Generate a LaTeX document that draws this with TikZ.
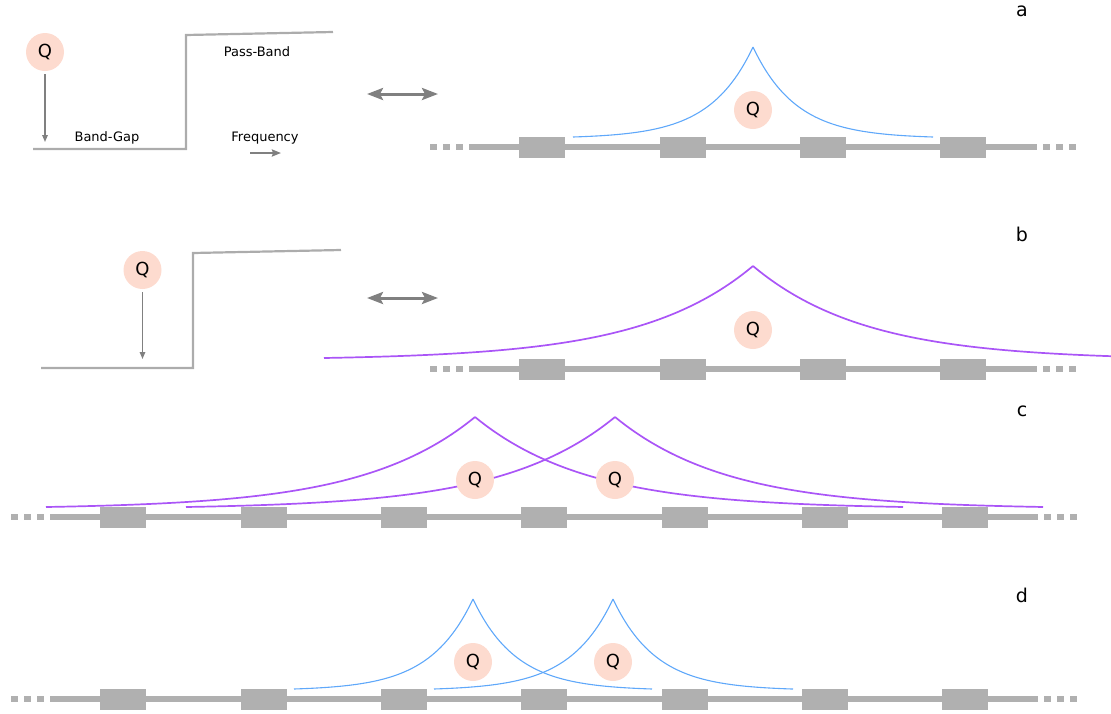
\documentclass[tikz,border=0pt]{standalone}
\usepackage{fontspec}
\setmainfont{DejaVu Sans}
\usetikzlibrary{arrows.meta}
\definecolor{qfill}{RGB}{253,219,207}
\definecolor{chaingray}{RGB}{176,176,176}
\definecolor{bandgray}{RGB}{172,172,172}
\definecolor{arrgray}{RGB}{128,128,128}
\definecolor{modeblue}{RGB}{95,168,250}
\definecolor{modepurple}{RGB}{170,85,247}
\newcommand\modecurve[7]{%
 \draw[#1] plot[domain=#5:0,samples=90,smooth] ({#2-\x},{#3+(#4-#3)*(1-exp(-\x/#7))/(1-exp(-#5/#7))});
 \draw[#1] plot[domain=0:#6,samples=90,smooth] ({#2+\x},{#3+(#4-#3)*(1-exp(-\x/#7))/(1-exp(-#5/#7))});
}
\begin{document}
\begin{tikzpicture}[x=1pt,y=-1pt,
 qnode/.style={circle,fill=qfill,minimum size=38pt,inner sep=0pt,font=\fontsize{18}{20}\selectfont},
 lbl/.style={font=\fontsize{13}{15}\selectfont,inner sep=0pt,anchor=base},
 letter/.style={font=\fontsize{19}{21}\selectfont,inner sep=0pt,anchor=base},
 band/.style={draw=bandgray,line width=2.2pt},
 chainline/.style={draw=chaingray,line width=6.5pt},
 chaindots/.style={draw=chaingray,line width=6.5pt,dash pattern=on 7pt off 6pt},
 block/.style={fill=chaingray},
 varrow/.style={draw=arrgray,line width=1.4pt,-{Triangle[length=7pt,width=5.5pt]}},
 darrow/.style={draw=arrgray,line width=3pt,{Stealth[length=16pt,width=12pt,inset=3pt]}-{Stealth[length=16pt,width=12pt,inset=3pt]}},
 farrow/.style={draw=arrgray,line width=2pt,-{Stealth[length=9pt,width=7pt,inset=1pt]}},
 bluemode/.style={draw=modeblue,line width=1.1pt},
 purplemode/.style={draw=modepurple,line width=1.7pt},
]
\useasboundingbox (0,0) rectangle (1111,713);

% ---------------- row a ----------------
\draw[band] (33,149) -- (186,149) -- (186,35) -- (333,32);
\node[qnode] (qa1) at (45,52) {Q};
\coordinate (qa1end) at (45,142);
\draw[varrow] ([yshift=-3pt]qa1.south) -- (qa1end);
\node[lbl] (passband) at (257,56) {Pass-Band};
\node[lbl] (bandgap) at (107,141) {Band-Gap};
\node[lbl] (freq) at (265,141) {Frequency};
\coordinate (fa) at (250,153); \coordinate (fb) at (281,153);
\draw[farrow] (fa) -- (fb);
\coordinate (da1) at (367,94); \coordinate (da2) at (438,94);
\draw[darrow] (da1) -- (da2);
\node[letter] (la) at (1022,16) {a};
\draw[chainline] (469,147) -- (1037,147);
\draw[chaindots] (430,147) -- (463,147);
\draw[chaindots] (1043,147) -- (1076,147);
\foreach \c in {542,683,823,963} \fill[block] (\c-23,136.5) rectangle (\c+23,157.5);
\modecurve{bluemode}{753}{47}{137}{180}{180}{43}
\node[qnode] (qa2) at (753,110) {Q};

% ---------------- row b ----------------
\draw[band] (41,368) -- (193,368) -- (193,253) -- (341,250);
\node[qnode] (qb1) at (142.5,270) {Q};
\coordinate (qb1end) at (142.5,359);
\draw[varrow] ([yshift=-3pt]qb1.south) -- (qb1end);
\coordinate (db1) at (367,298); \coordinate (db2) at (438,298);
\draw[darrow] (db1) -- (db2);
\node[letter] (lb) at (1022,241) {b};
\draw[chainline] (469,369) -- (1037,369);
\draw[chaindots] (430,369) -- (463,369);
\draw[chaindots] (1043,369) -- (1076,369);
\foreach \c in {542,683,823,963} \fill[block] (\c-23,358.5) rectangle (\c+23,379.5);
\modecurve{purplemode}{753}{266}{358}{429}{358}{112}
\node[qnode] (qb2) at (753,330) {Q};

% ---------------- row c ----------------
\node[letter] (lc) at (1022,416) {c};
\draw[chainline] (50,517) -- (1038,517);
\draw[chaindots] (11,517) -- (44,517);
\draw[chaindots] (1044,517) -- (1077,517);
\foreach \c in {123,263.5,404,544,684.5,825,965} \fill[block] (\c-23,506.5) rectangle (\c+23,527.5);
\modecurve{purplemode}{475}{417}{507}{429}{428}{112}
\modecurve{purplemode}{615}{417}{507}{429}{428}{112}
\node[qnode] (qc1) at (475,480) {Q};
\node[qnode] (qc2) at (615,480) {Q};

% ---------------- row d ----------------
\node[letter] (ld) at (1022,602) {d};
\draw[chainline] (50,699) -- (1038,699);
\draw[chaindots] (11,699) -- (44,699);
\draw[chaindots] (1044,699) -- (1077,699);
\foreach \c in {123,263.5,404,544,684.5,825,965} \fill[block] (\c-23,688.5) rectangle (\c+23,709.5);
\modecurve{bluemode}{473}{599}{689}{179}{179}{43}
\modecurve{bluemode}{613}{599}{689}{179}{180}{43}
\node[qnode] (qd1) at (473,662) {Q};
\node[qnode] (qd2) at (613,662) {Q};
\end{tikzpicture}
\end{document}
